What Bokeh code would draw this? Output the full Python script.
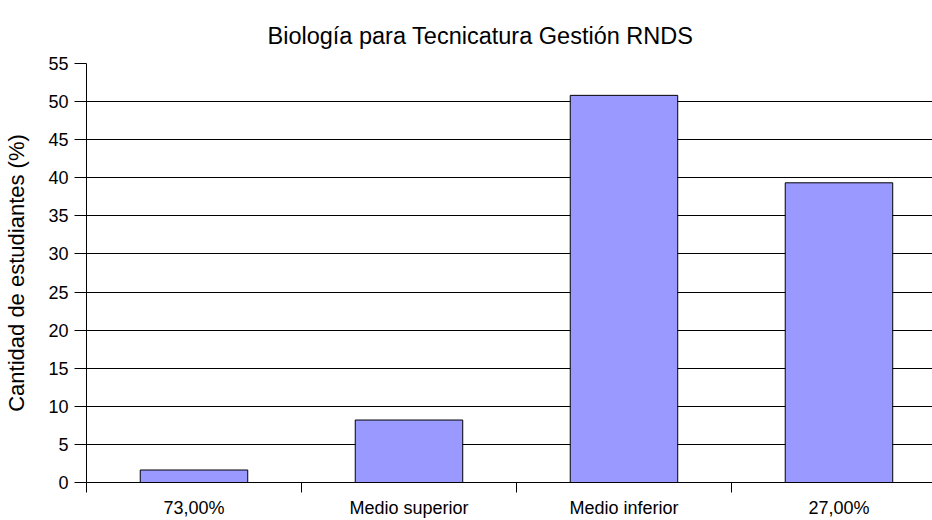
from bokeh.plotting import figure
from bokeh.models import Range1d, FixedTicker
from bokeh.embed import file_html
from bokeh.resources import INLINE

# Data
categories = ["73,00%", "Medio superior", "Medio inferior", "27,00%"]
values = [1.64, 8.20, 50.82, 39.34]
y_ticks = [0, 5, 10, 15, 20, 25, 30, 35, 40, 45, 50, 55]
title_text = "Biología para Tecnicatura Gestión RNDS"
y_label = "Cantidad de estudiantes (%)"

FONT = "Liberation Sans"
idx = list(range(len(categories)))

p = figure(width=932, height=520, output_backend="svg", toolbar_location=None,
           x_range=Range1d(-0.5, 3.435), y_range=Range1d(0, 55),
           min_border_left=86, min_border_right=0, min_border_top=63,
           min_border_bottom=37, title=title_text)
p.outline_line_color = None
p.background_fill_color = "white"
p.border_fill_color = "white"

p.title.text_font = FONT
p.title.text_font_size = "23.5px"
p.title.text_font_style = "normal"
p.title.text_color = "black"
p.title.align = "left"
p.title.offset = 181
p.title.standoff = 30

p.vbar(x=idx, top=values, width=0.5, fill_color="#9999FF",
       line_color="black", line_width=1)

# grid
p.xgrid.grid_line_color = None
p.ygrid.grid_line_color = "black"
p.ygrid.grid_line_width = 1
p.ygrid.ticker = FixedTicker(ticks=y_ticks)

# y axis
ya = p.yaxis[0]
ya.ticker = FixedTicker(ticks=y_ticks)
ya.axis_label = y_label
ya.axis_label_text_font = FONT
ya.axis_label_text_font_size = "22px"
ya.axis_label_text_font_style = "normal"
ya.axis_label_text_color = "black"
ya.axis_label_standoff = 16
ya.major_label_text_font = FONT
ya.major_label_text_font_size = "18px"
ya.major_label_text_color = "black"
ya.major_label_standoff = 6
ya.major_tick_out = 12
ya.major_tick_in = 0
ya.minor_tick_out = 0
ya.minor_tick_in = 0
ya.axis_line_color = "black"
ya.major_tick_line_color = "black"

# x axis: labels centred under bars, ticks at category boundaries
boundaries = [i - 0.5 for i in idx]
xa = p.xaxis[0]
xa.ticker = FixedTicker(ticks=idx, minor_ticks=boundaries)
xa.major_label_overrides = {i: c for i, c in zip(idx, categories)}
xa.major_label_text_font = FONT
xa.major_label_text_font_size = "18px"
xa.major_label_text_color = "black"
xa.major_label_standoff = 5
xa.major_tick_out = 0
xa.major_tick_in = 0
xa.minor_tick_out = 10
xa.minor_tick_in = 0
xa.minor_tick_line_color = "black"
xa.axis_line_color = "black"

open("out.html", "w").write(file_html(p, INLINE))
